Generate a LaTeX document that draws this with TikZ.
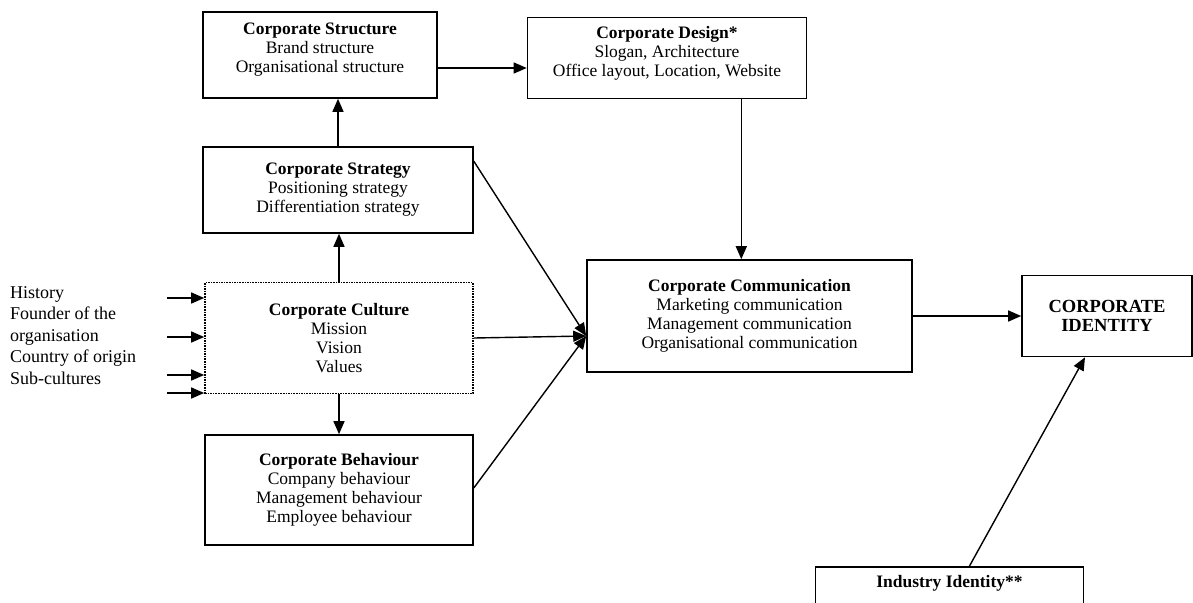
\documentclass[tikz,border=0pt]{standalone}
\usepackage{fontspec}
\setmainfont{Liberation Serif}
\usetikzlibrary{arrows.meta}

\begin{document}
\begin{tikzpicture}[x=1pt, y=-1pt,
    box/.style={rectangle, draw, line width=1.6pt, align=center, inner sep=2pt,
        font=\fontsize{17.5}{19}\selectfont},
    flow/.style={line width=1.4pt, -{Triangle[length=13pt, width=11pt]}}]
    \useasboundingbox (0,0) rectangle (1193,602);
    \clip (0,0) rectangle (1193,602);

    \node[box, minimum width=234pt, minimum height=86pt, text depth=14pt] (struct) at (320,55)
        {\textbf{Corporate Structure}\\Brand structure\\Organisational structure};
    \node[box, minimum width=279pt, minimum height=81pt, text depth=14pt] (design) at (667,58)
        {\textbf{Corporate Design*}\\Slogan, Architecture\\Office layout, Location, Website};
    \node[box, minimum width=270pt, minimum height=86pt] (strat) at (338,190)
        {\textbf{Corporate Strategy}\\Positioning strategy\\Differentiation strategy};
    \node[box, densely dotted, minimum width=268pt, minimum height=111pt] (cult) at (339,338)
        {\textbf{Corporate Culture}\\Mission\\Vision\\Values};
    \node[box, minimum width=268pt, minimum height=110pt] (behav) at (339,490)
        {\textbf{Corporate Behaviour}\\Company behaviour\\Management behaviour\\Employee behaviour};
    \node[box, minimum width=325pt, minimum height=112pt] (comm) at (749.5,316)
        {\textbf{Corporate Communication}\\Marketing communication\\Management communication\\Organisational communication};
    \node[box, minimum width=170pt, minimum height=81pt, font=\fontsize{18.5}{19}\selectfont] (ident) at (1107,316)
        {\textbf{CORPORATE}\\\textbf{IDENTITY}};
    \node[box, minimum width=268pt, anchor=north, inner ysep=9pt, text depth=30pt] (indus) at (949.5,566)
        {\textbf{Industry Identity**}};
    \node[align=left, anchor=north west, inner sep=0pt, font=\fontsize{18}{21.5}\selectfont] (roots) at (10,286)
        {History\\Founder of the\\organisation\\Country of origin\\Sub-cultures};

    % inputs to the culture
    \coordinate (in1) at (167,298);
    \coordinate (in2) at (167,337);
    \coordinate (in3) at (167,375);
    \coordinate (in4) at (167,393);
    \foreach \i in {1,...,4}
        \draw[flow] (in\i) -- (in\i -| cult.west);

    \draw[flow] (strat.north) -- (strat.north |- struct.south);
    \draw[flow] (cult.north) -- (cult.north |- strat.south);
    \draw[flow] (cult.south) -- (cult.south |- behav.north);
    \draw[flow] ([yshift=-13pt]struct.east) -- ([yshift=-13pt]struct.east -| design.west);
    \draw[flow] ([xshift=-66pt]design.south east) -- ([xshift=-66pt]design.south east |- comm.north);

    % everything meets at the communication box
    \coordinate (merge) at ([yshift=-20pt]comm.west);
    \draw[flow] ([yshift=-15pt]strat.north east) -- (merge);
    \draw[flow] (cult.east) -- (merge);
    \draw[flow] ([yshift=2pt]behav.east) -- (merge);

    \draw[flow] (comm.east) -- (comm.east -| ident.west);
    \draw[flow] ([xshift=20pt]indus.north) -- ([xshift=-22pt]ident.south);
\end{tikzpicture}
\end{document}
